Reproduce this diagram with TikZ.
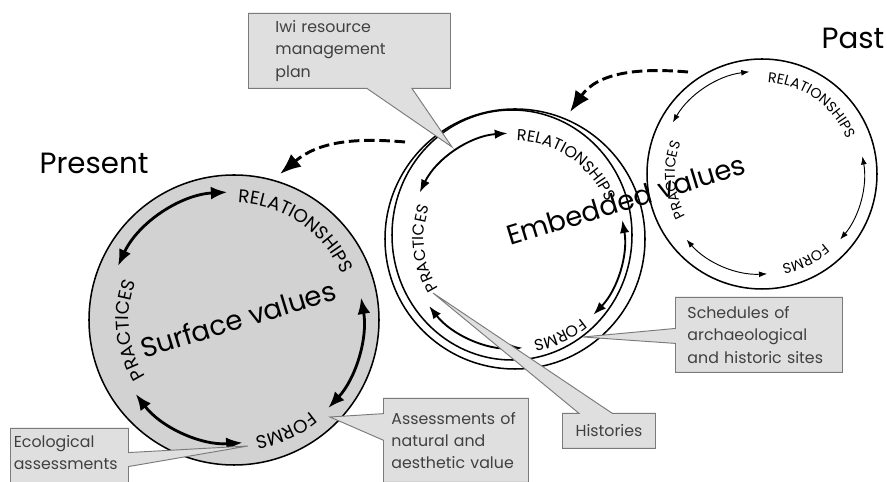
\documentclass[tikz,border=0pt]{standalone}
\usepackage{fontspec}
\setmainfont{Poppins}
\usetikzlibrary{arrows.meta, positioning, calc, decorations.text, shapes.callouts}

\definecolor{surfgray}{HTML}{D2D2D2}
\definecolor{notegray}{HTML}{DFDFDF}
\definecolor{noteedge}{HTML}{7A7A7A}

\newcommand{\surffont}{\fontsize{15.8}{18}\selectfont}
\newcommand{\embfont}{\fontsize{13.6}{16}\selectfont}
\newcommand{\pastfont}{\fontsize{12.2}{14}\selectfont}

\begin{document}
\begin{tikzpicture}[
		x=0.03cm, y=0.03cm,
		ring/.style={draw, line width=1.3pt},
		surfarrow/.style={{Latex[length=14pt,width=11pt]}-{Latex[length=14pt,width=11pt]}, line width=2.4pt},
		embarrow/.style={{Latex[length=11pt,width=8pt]}-{Latex[length=11pt,width=8pt]}, line width=1.6pt},
		pastarrow/.style={{Latex[length=7pt,width=5pt]}-{Latex[length=7pt,width=5pt]}, line width=0.8pt},
		flow/.style={-{Latex[length=18pt,width=14pt]}, line width=2.5pt, dash pattern=on 9pt off 4pt},
		surflbl/.style={decorate, decoration={text along path, text align=center, text={|\surffont|#1}}},
		emblbl/.style={decorate, decoration={text along path, text align=center, text={|\embfont|#1}}},
		pastlbl/.style={decorate, decoration={text along path, text align=center, text={|\pastfont|#1}}},
		values/.style={font=\fontsize{23.5}{28}\selectfont, rotate=17},
		era/.style={font=\fontsize{25}{30}\selectfont},
		note/.style={
			rectangle callout,
			draw=noteedge,
			fill=notegray,
			line width=0.8pt,
			align=left,
			anchor=north west,
			inner ysep=0pt,
			text=black!75,
			font=\fontsize{13.5}{19}\selectfont
		}
		]
		
		\useasboundingbox (0,0) rectangle (887,482);
		
		% circle centres
		\coordinate (surf) at (234,162);
		\coordinate (emb) at (515,243);
		\coordinate (past) at (762,308);
		
		% rings
		\draw[ring, fill=surfgray] (surf) circle[radius=145];
		\draw[ring] (emb) circle[radius=130];
		\draw[ring] ($(emb)+(-3,4)$) ellipse[x radius=120, y radius=125];
		\draw[ring] (past) circle[radius=115];
		
		% arrows round each ring
		\draw[surfarrow] ($(surf)+(155:128)$) arc[start angle=155, end angle=93, radius=128];
		\draw[surfarrow] ($(surf)+(10:129)$) arc[start angle=10, end angle=-43, radius=129];
		\draw[surfarrow] ($(surf)+(217:123)$) arc[start angle=217, end angle=274, radius=123];
		
		\draw[embarrow] ($(emb)+(154:106)$) arc[start angle=154, end angle=94, radius=106];
		\draw[embarrow] ($(emb)+(10:109)$) arc[start angle=10, end angle=-44, radius=109];
		\draw[embarrow] ($(emb)+(218:109)$) arc[start angle=218, end angle=274, radius=109];
		
		\draw[pastarrow] ($(past)+(150:103)$) arc[start angle=150, end angle=97, radius=103];
		\draw[pastarrow] ($(past)+(10:102)$) arc[start angle=10, end angle=-40, radius=102];
		\draw[pastarrow] ($(past)+(221:100)$) arc[start angle=221, end angle=273, radius=100];
		
		% ring labels
		\path[surflbl=RELATIONSHIPS] ($(surf)+(115:117)$) arc[start angle=115, end angle=-4, radius=117];
		\path[surflbl=PRACTICES] ($(surf)+(245:105)$) arc[start angle=245, end angle=126, radius=105];
		\path[surflbl=FORMS] ($(surf)+(-5:119)$) arc[start angle=-5, end angle=-125, radius=119];
		
		\path[emblbl=RELATIONSHIPS] ($(emb)+(115:98)$) arc[start angle=115, end angle=-4, radius=98];
		\path[emblbl=PRACTICES] ($(emb)+(246:91)$) arc[start angle=246, end angle=126, radius=91];
		\path[emblbl=FORMS] ($(emb)+(-5:103)$) arc[start angle=-5, end angle=-125, radius=103];
		
		\path[pastlbl=RELATIONSHIPS] ($(past)+(114:92)$) arc[start angle=114, end angle=-5, radius=92];
		\path[pastlbl=PRACTICES] ($(past)+(244:87)$) arc[start angle=244, end angle=124, radius=87];
		\path[pastlbl=FORMS] ($(past)+(-3:93)$) arc[start angle=-3, end angle=-123, radius=93];
		
		\node[values] (surfval) at (238,163) {Surface values};
		\node[values] (embval) at (626,282) {Embedded values};
		
		\node[era] (presentlbl) at (94,319) {Present};
		\node[era] (pastlbl) at (853,444) {Past};
		
		% dashed flow from past to present
		\coordinate (flowa) at (405,340);
		\coordinate (flowb) at (280,308);
		\coordinate (flowc) at (688,410);
		\coordinate (flowd) at (570,370);
		\draw[flow] (flowa) to[out=175, in=40] (flowb);
		\draw[flow] (flowc) to[out=175, in=55] (flowd);
		
		% notes
		\coordinate (iwitip) at (452,335);
		\coordinate (schedtip) at (583,145);
		\coordinate (histtip) at (433,189);
		\coordinate (assesstip) at (330,65);
		\coordinate (ecotip) at (248,36);
		
		\node[note, callout absolute pointer={(iwitip)}, callout pointer width=1.35cm,
			text width=4.44cm, inner xsep=0.81cm, minimum height=2.25cm] (iwi) at (248,469)
		{Iwi resource\\management\\plan};
		
		\node[note, callout absolute pointer={(schedtip)}, callout pointer width=0.45cm,
			text width=4.29cm, inner xsep=0.36cm, minimum height=2.25cm] (sched) at (675,185)
		{Schedules of\\archaeological\\and historic sites};
		
		\node[note, callout absolute pointer={(histtip)}, callout pointer width=1cm,
			align=center, minimum width=2.79cm, minimum height=1.05cm] (hist) at (562,69)
		{Histories};
		
		\node[note, callout absolute pointer={(assesstip)}, callout pointer width=0.8cm,
			text width=3.87cm, inner xsep=0.24cm, minimum height=2.52cm] (assess) at (383,84)
		{Assessments of\\natural and\\aesthetic value};
		
		\node[note, callout absolute pointer={(ecotip)}, callout pointer width=0.42cm,
			text width=3.34cm, inner xsep=0.1cm, inner ysep=0.2cm] (eco) at (10,54)
		{Ecological\\assessments\\\rule{0pt}{0.8cm}};
		
	\end{tikzpicture}
\end{document}
